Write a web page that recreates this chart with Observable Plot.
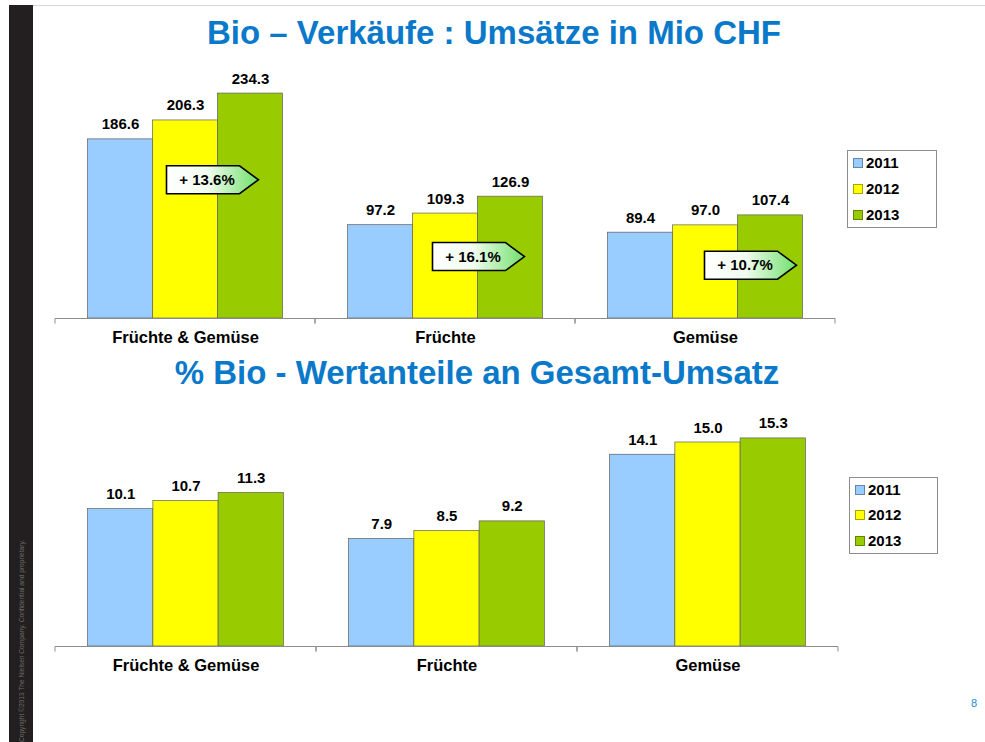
<!DOCTYPE html>
<html>
<head>
<meta charset="utf-8">
<script src="https://cdn.jsdelivr.net/npm/d3@7"></script>
<script src="https://cdn.jsdelivr.net/npm/@observablehq/plot@0.6"></script>
<style>
  html, body { margin: 0; padding: 0; background: #fff; }
  body { width: 985px; height: 742px; position: relative; overflow: hidden; font-family: "Liberation Sans", Arial, sans-serif; }
  .abs { position: absolute; }
  .title { color: #0a79c9; font-weight: bold; font-size: 33px; line-height: 33px; text-align: center; white-space: nowrap; }
  .legend { border: 1px solid #8c8c8c; background: #fff; box-sizing: border-box; }
  .legend .item { position: absolute; left: 5px; font-weight: bold; font-size: 15px; line-height: 17px; color: #000; white-space: nowrap; }
  .legend .sw { display: inline-block; width: 8px; height: 8px; border: 1px solid rgba(0,0,0,0.35); margin-right: 3px; vertical-align: 0px; }
</style>
</head>
<body>
<div class="abs" style="left:33px;top:5px;width:952px;height:1px;background:#d8d8d8"></div>
<div class="abs" style="left:9px;top:5px;width:24px;height:737px;background:#231f20"></div>
<div class="abs" style="left:22px;top:742px;transform-origin:0 0;transform:rotate(-90deg) translate(0,-4px);font-size:6.6px;color:#6b6b6b;white-space:nowrap;">Copyright ©2013 The Nielsen Company. Confidential and proprietary.</div>
<div id="title1" class="abs title" style="left:0;top:16px;width:988px;"></div>
<div id="title2" class="abs title" style="left:0;top:356px;width:954px;"></div>
<div id="chart1" class="abs" style="left:0;top:60px;"></div>
<div id="chart2" class="abs" style="left:0;top:400px;"></div>
<div id="legend1" class="abs legend" style="left:847px;top:150px;width:90px;height:78px;"></div>
<div id="legend2" class="abs legend" style="left:849px;top:477px;width:89px;height:77px;"></div>
<div class="abs" style="left:971px;top:697px;font-size:11px;color:#1a8fd0;">8</div>
<script>
// ---- data ----
const titles = ["Bio – Verkäufe : Umsätze in Mio CHF", "% Bio - Wertanteile an Gesamt-Umsatz"];
const categories = ["Früchte & Gemüse", "Früchte", "Gemüse"];
const years = ["2011", "2012", "2013"];
const salesMioCHF = [
  [186.6, 206.3, 234.3],
  [97.2, 109.3, 126.9],
  [89.4, 97.0, 107.4]
];
const sharePct = [
  [10.1, 10.7, 11.3],
  [7.9, 8.5, 9.2],
  [14.1, 15.0, 15.3]
];
const growthLabels = ["+ 13.6%", "+ 16.1%", "+ 10.7%"];
// annotation anchors (Mio CHF level of the callout centre)
const growthLevel = [144, 64, 55];
// annotation horizontal shift from the 2012 bar's left edge (px)
const growthShift = [14, 20, 32];
const yearColors = ["#99CCFF", "#FFFF00", "#99CC00"];

document.getElementById("title1").textContent = titles[0];
document.getElementById("title2").textContent = titles[1];

function tidy(values) {
  const rows = [];
  categories.forEach((c, i) => years.forEach((y, j) => rows.push({cat: c, year: y, value: values[i][j]})));
  return rows;
}
const salesRows = tidy(salesMioCHF);
const shareRows = tidy(sharePct);
const growthRows = categories.map((c, i) => ({cat: c, label: growthLabels[i], level: growthLevel[i], shift: growthShift[i]}));

const font = "'Liberation Sans', Arial, sans-serif";

function baselineWithTicks(index, scales, values, dims, context, next) {
  const g = next(index, scales, values, dims, context);
  const x0 = dims.marginLeft, x1 = dims.width - dims.marginRight;
  const y0 = dims.height - dims.marginBottom;
  const sel = d3.select(g);
  for (const x of [x0, x1]) {
    sel.append("line").attr("x1", x).attr("x2", x).attr("y1", y0).attr("y2", y0 + 5)
      .attr("stroke", "#8c8c8c").attr("stroke-width", 1);
  }
  return g;
}

function callouts(index, scales, values, dims) {
  const g = d3.create("svg:g");
  const defs = g.append("defs");
  const grad = defs.append("linearGradient").attr("id", "calloutGrad").attr("x1", "0").attr("x2", "1").attr("y1", "0").attr("y2", "0");
  grad.append("stop").attr("offset", "0").attr("stop-color", "#ffffff");
  grad.append("stop").attr("offset", "0.45").attr("stop-color", "#f1fcef");
  grad.append("stop").attr("offset", "1").attr("stop-color", "#6fe06a");
  const w = 73, tip = 19, h = 28;
  for (const i of index) {
    const d = growthRows[i];
    const left = scales.x("2012") + d.shift;
    const cy = values.y[i];
    const top = cy - h / 2;
    g.append("path")
      .attr("d", `M${left},${top}H${left + w}L${left + w + tip},${cy}L${left + w},${top + h}H${left}Z`)
      .attr("fill", "url(#calloutGrad)").attr("stroke", "#000").attr("stroke-width", 1.6);
    g.append("text").attr("x", left + w / 2 + 4).attr("y", cy).attr("dy", "0.35em")
      .attr("text-anchor", "middle").attr("font-weight", "bold").attr("font-size", 15)
      .attr("font-family", font).attr("fill", "#000").text(d.label);
  }
  return g.node();
}

function chart(rows, yDomain, height, marginTop, marginBottom, marginRight, withCallouts) {
  const marks = [
    Plot.barY(rows, {fx: "cat", x: "year", y: "value", fill: "year", stroke: "#5e5e5e", strokeWidth: 0.7}),
    Plot.ruleY([0], {stroke: "#8c8c8c", strokeWidth: 1, render: baselineWithTicks}),
    Plot.text(rows, {fx: "cat", x: "year", y: "value", text: d => d.value.toFixed(1), lineAnchor: "bottom", dy: -10,
      fontWeight: "bold", fontSize: 15, fill: "#000"}),
    Plot.axisFx({anchor: "bottom", tickSize: 0, tickPadding: 13, fontSize: 16.5, fontWeight: "bold", fill: "#000", label: null})
  ];
  if (withCallouts) {
    marks.push(Plot.text(growthRows, {fx: "cat", x: () => "2012", y: "level", text: "label", render: callouts}));
  }
  return Plot.plot({
    width: 985,
    height,
    marginLeft: 55,
    marginRight,
    marginTop,
    marginBottom,
    style: {fontFamily: font, color: "#000", background: "transparent", overflow: "visible"},
    fx: {domain: categories, padding: 0, label: null, round: false},
    x: {domain: years, paddingInner: 0, paddingOuter: 0.5, axis: null, round: false},
    y: {domain: yDomain, axis: null},
    color: {domain: years, range: yearColors},
    marks
  });
}

document.getElementById("chart1").appendChild(chart(salesRows, [0, 250], 290, 18, 32, 150, true));
document.getElementById("chart2").appendChild(chart(shareRows, [0, 16], 278, 28.4, 32, 147, false));

function legend(id, tops) {
  const el = document.getElementById(id);
  years.forEach((y, i) => {
    const item = document.createElement("div");
    item.className = "item";
    item.style.top = tops[i] + "px";
    const sw = document.createElement("span");
    sw.className = "sw";
    sw.style.background = yearColors[i];
    item.appendChild(sw);
    item.appendChild(document.createTextNode(y));
    el.appendChild(item);
  });
}
legend("legend1", [3, 29, 55]);
legend("legend2", [3, 28, 54]);
</script>
</body>
</html>
